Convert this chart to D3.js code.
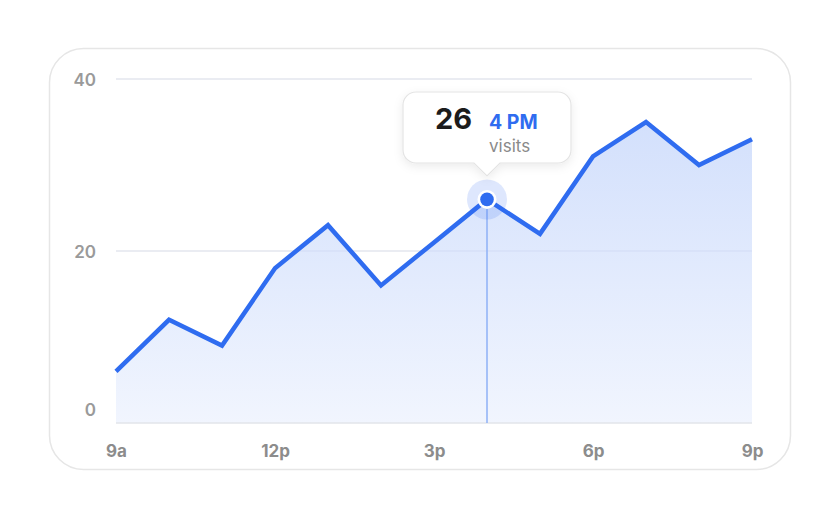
<!DOCTYPE html>
<html>
<head>
<meta charset="utf-8">
<script src="https://cdn.jsdelivr.net/npm/d3@7/dist/d3.min.js"></script>
<style>
  html, body { margin: 0; padding: 0; background: #ffffff; }
  svg { display: block; font-family: Inter, "Noto Sans", "DejaVu Sans", sans-serif; }
</style>
</head>
<body>
<svg id="chart" width="840" height="520"></svg>
<script>
// ---- data ----
const hours = [9, 10, 11, 12, 13, 14, 15, 16, 17, 18, 19, 20, 21];
const visits = [6, 12, 9, 18, 23, 16, 21, 26, 22, 31, 35, 30, 33];
const xTickValues = [9, 12, 15, 18, 21];
const xTickLabels = ["9a", "12p", "3p", "6p", "9p"];
const yTickValues = [0, 20, 40];
const highlightHour = 16;
const highlightLabel = "4 PM";
const highlightUnit = "visits";

// ---- layout ----
const svg = d3.select("#chart");
const plot = { left: 116, right: 752, top: 79, bottom: 423 };

const x = d3.scaleLinear().domain([9, 21]).range([plot.left, plot.right]);
const y = d3.scaleLinear().domain([0, 40]).range([plot.bottom, plot.top]);

const blue = "#2f6cf0";

// defs
const defs = svg.append("defs");
const grad = defs.append("linearGradient").attr("id", "areaGrad")
  .attr("gradientUnits", "userSpaceOnUse")
  .attr("x1", 0).attr("y1", y(35)).attr("x2", 0).attr("y2", y(0));
grad.append("stop").attr("offset", "0%").attr("stop-color", "#d3e0fc");
grad.append("stop").attr("offset", "100%").attr("stop-color", "#f1f5fe");

const shadow = defs.append("filter").attr("id", "shadow")
  .attr("x", "-30%").attr("y", "-30%").attr("width", "160%").attr("height", "180%");
shadow.append("feDropShadow").attr("dx", 0).attr("dy", 3).attr("stdDeviation", 5)
  .attr("flood-color", "#000").attr("flood-opacity", 0.08);

// card
svg.append("rect")
  .attr("x", 49.5).attr("y", 48.5).attr("width", 741).attr("height", 421)
  .attr("rx", 34).attr("ry", 34)
  .attr("fill", "#fff").attr("stroke", "#e6e6e6").attr("stroke-width", 1.5);

// grid lines
svg.append("g").selectAll("line")
  .data(yTickValues.filter(d => d !== 0))
  .join("line")
  .attr("x1", plot.left).attr("x2", plot.right)
  .attr("y1", d => y(d)).attr("y2", d => y(d))
  .attr("stroke", "#ebebeb").attr("stroke-width", 1.2);

// area
const area = d3.area().x((d, i) => x(hours[i])).y0(y(0)).y1(d => y(d));
svg.append("path").datum(visits).attr("d", area).attr("fill", "url(#areaGrad)");

// grid line faintly over area
svg.append("g").selectAll("line")
  .data(yTickValues.filter(d => d !== 0))
  .join("line")
  .attr("x1", plot.left).attr("x2", plot.right)
  .attr("y1", d => y(d)).attr("y2", d => y(d))
  .attr("stroke", "#b9c6e4").attr("stroke-opacity", 0.35).attr("stroke-width", 1);

// baseline
svg.append("line")
  .attr("x1", plot.left).attr("x2", plot.right)
  .attr("y1", y(0)).attr("y2", y(0))
  .attr("stroke", "#e2e4ea").attr("stroke-width", 1.5);

// highlight vertical line
const hi = hours.indexOf(highlightHour);
svg.append("line")
  .attr("x1", x(highlightHour)).attr("x2", x(highlightHour))
  .attr("y1", y(visits[hi])).attr("y2", y(0))
  .attr("stroke", "#8eb0f6").attr("stroke-width", 1.5);

// line
const line = d3.line().x((d, i) => x(hours[i])).y(d => y(d));
svg.append("path").datum(visits).attr("d", line)
  .attr("fill", "none").attr("stroke", blue).attr("stroke-width", 4.5)
  .attr("stroke-linejoin", "miter").attr("stroke-linecap", "butt");

// y axis labels
const yAxis = d3.axisLeft(y).tickValues(yTickValues).tickSize(0).tickPadding(0);
const yg = svg.append("g").attr("transform", `translate(96,0)`).call(yAxis);
yg.select(".domain").remove();
yg.selectAll("text")
  .attr("fill", "#9a9a9a").attr("font-size", 17).attr("font-weight", 600)
  .attr("font-family", "Inter, sans-serif")
  .attr("dy", d => d === 0 ? "-0.45em" : "0.36em")
  .attr("x", 0);

// x axis labels
const xAxis = d3.axisBottom(x).tickValues(xTickValues)
  .tickFormat((d, i) => xTickLabels[i]).tickSize(0).tickPadding(0);
const xg = svg.append("g").attr("transform", `translate(0,${y(0) + 22})`).call(xAxis);
xg.select(".domain").remove();
xg.selectAll("text")
  .attr("fill", "#8c8c8c").attr("font-size", 17).attr("font-weight", 700)
  .attr("font-family", "Inter, sans-serif")
  .attr("dy", "0.68em");

// highlight dot
const cx = x(highlightHour), cy = y(visits[hi]);
svg.append("circle").attr("cx", cx).attr("cy", cy).attr("r", 20)
  .attr("fill", blue).attr("fill-opacity", 0.16);
svg.append("circle").attr("cx", cx).attr("cy", cy).attr("r", 9.5).attr("fill", "#fff");
svg.append("circle").attr("cx", cx).attr("cy", cy).attr("r", 6.8).attr("fill", blue);

// tooltip
const tipW = 168, tipH = 71, tipR = 13, arrowH = 13, arrowHalf = 13;
const tipX = cx - 84, tipY = 92;
const tipPath = d3.path();
tipPath.moveTo(tipX + tipR, tipY);
tipPath.lineTo(tipX + tipW - tipR, tipY);
tipPath.arcTo(tipX + tipW, tipY, tipX + tipW, tipY + tipR, tipR);
tipPath.lineTo(tipX + tipW, tipY + tipH - tipR);
tipPath.arcTo(tipX + tipW, tipY + tipH, tipX + tipW - tipR, tipY + tipH, tipR);
tipPath.lineTo(cx + arrowHalf, tipY + tipH);
tipPath.lineTo(cx, tipY + tipH + arrowH);
tipPath.lineTo(cx - arrowHalf, tipY + tipH);
tipPath.lineTo(tipX + tipR, tipY + tipH);
tipPath.arcTo(tipX, tipY + tipH, tipX, tipY + tipH - tipR, tipR);
tipPath.lineTo(tipX, tipY + tipR);
tipPath.arcTo(tipX, tipY, tipX + tipR, tipY, tipR);
tipPath.closePath();
svg.append("path").attr("d", tipPath.toString())
  .attr("fill", "#fff").attr("stroke", "#e4e4e4").attr("stroke-width", 1.2)
  .attr("filter", "url(#shadow)");

svg.append("text").attr("x", 472).attr("y", 129)
  .attr("text-anchor", "end")
  .attr("font-size", 29).attr("font-weight", 700).attr("fill", "#1c1c1c")
  .text(visits[hi]);
svg.append("text").attr("x", 489).attr("y", 129)
  .attr("font-size", 19.5).attr("font-weight", 700).attr("fill", blue)
  .text(highlightLabel);
svg.append("text").attr("x", 489).attr("y", 152)
  .attr("font-size", 17).attr("font-weight", 400).attr("fill", "#8a8a8a")
  .text(highlightUnit);
</script>
</body>
</html>
